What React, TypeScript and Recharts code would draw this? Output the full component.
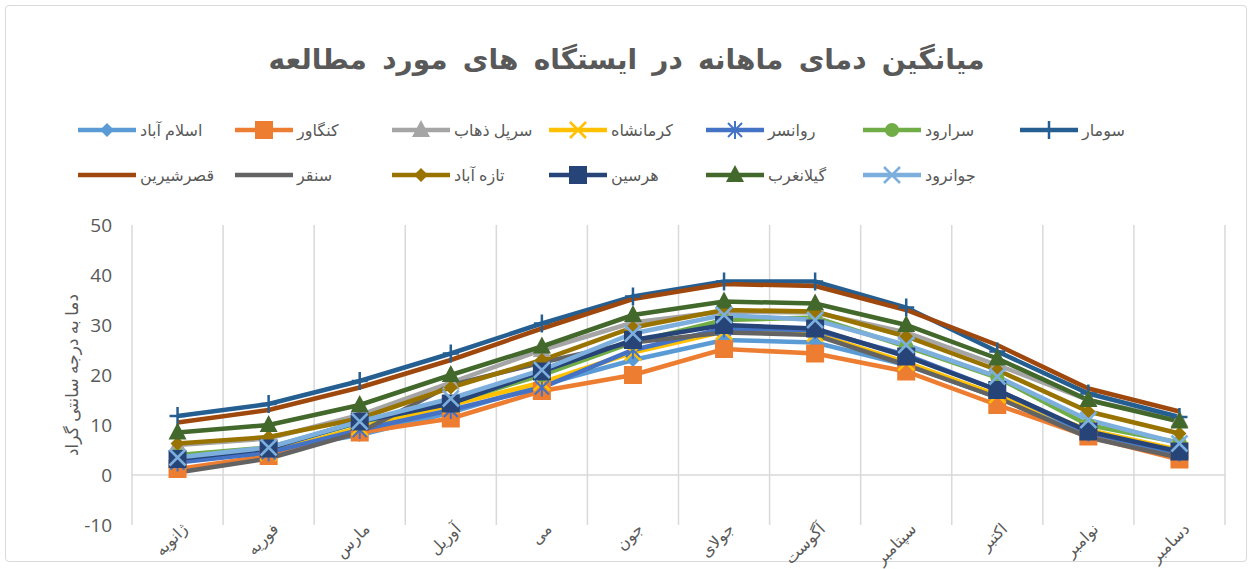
import { LineChart, Line, XAxis, YAxis, CartesianGrid, ReferenceLine, Label } from 'recharts'

// میانگین دمای ماهانه ایستگاه‌ها (درجه سانتی‌گراد)

const months = ['ژانویه', 'فوریه', 'مارس', 'آوریل', 'می', 'جون', 'جولای', 'آگوست', 'سپتامبر', 'اکتبر', 'نوامبر', 'دسامبر']
const yTicks = [-10, 0, 10, 20, 30, 40, 50]

const eslamabad = [3.5, 5, 8, 12.5, 18, 23, 27, 26.5, 22, 15.5, 8, 4]
const kangavar = [1.2, 3.8, 8.5, 11.3, 16.8, 20, 25.2, 24.3, 20.7, 14, 7.7, 3.1]
const sarpolZahab = [6, 7.3, 12, 18.5, 25, 30.5, 32.7, 32.5, 28.5, 22, 15, 11]
const kermanshah = [3, 4.5, 9.5, 14, 18.5, 24.5, 28.7, 28.3, 22.5, 16, 9, 5]
const ravansar = [2.5, 4.5, 9, 13, 17.5, 25, 29.3, 29, 24, 17, 8.5, 4.5]
const sararud = [4, 5.5, 10.5, 14.5, 20, 26.5, 31, 31.5, 25.7, 19.5, 10, 6.5]
const sumar = [11.8, 14.2, 18.8, 24.3, 30.3, 35.7, 38.7, 38.7, 33.5, 24.7, 16.3, 11.6]
const ghasreShirin = [10.5, 13, 17.5, 23, 29.3, 35.2, 38.2, 37.8, 33, 26, 17.3, 12.7]
const sonqor = [0.5, 3.3, 8.5, 18, 22.5, 26.5, 28.5, 28, 22, 15.5, 7.5, 3.5]
const tazeAbad = [6.3, 7.6, 11.3, 17.5, 23, 29.5, 33, 32.7, 27.7, 21, 12.7, 8.3]
const harsin = [3.2, 5.3, 10.7, 14.3, 20.7, 27, 30, 29.3, 23.7, 17, 8.7, 4.7]
const gilangharb = [8.5, 10, 14, 20, 25.7, 32, 34.7, 34.3, 30, 23.3, 15, 10.7]
const javanrud = [3.5, 5.5, 10.7, 15.3, 21, 28.3, 32, 31, 26, 19.7, 11, 6.3]

type Marker = 'diamond' | 'square' | 'triangle' | 'x' | 'star' | 'circle' | 'plus' | 'none'

const series: { name: string; values: number[]; color: string; marker: Marker }[] = [
  { name: 'اسلام آباد', values: eslamabad, color: '#5B9BD5', marker: 'diamond' },
  { name: 'کنگاور', values: kangavar, color: '#ED7D31', marker: 'square' },
  { name: 'سرپل ذهاب', values: sarpolZahab, color: '#A5A5A5', marker: 'triangle' },
  { name: 'کرمانشاه', values: kermanshah, color: '#FFC000', marker: 'x' },
  { name: 'روانسر', values: ravansar, color: '#4472C4', marker: 'star' },
  { name: 'سرارود', values: sararud, color: '#70AD47', marker: 'circle' },
  { name: 'سومار', values: sumar, color: '#255E91', marker: 'plus' },
  { name: 'قصرشیرین', values: ghasreShirin, color: '#9E480E', marker: 'none' },
  { name: 'سنقر', values: sonqor, color: '#636363', marker: 'none' },
  { name: 'تازه آباد', values: tazeAbad, color: '#997300', marker: 'diamond' },
  { name: 'هرسین', values: harsin, color: '#264478', marker: 'square' },
  { name: 'گیلانغرب', values: gilangharb, color: '#43682B', marker: 'triangle' },
  { name: 'جوانرود', values: javanrud, color: '#7CAFDD', marker: 'x' },
]

const data = months.map((month, i) => {
  const row: Record<string, string | number> = { month }
  series.forEach(s => {
    row[s.name] = s.values[i]
  })
  return row
})

const textColor = '#595959'
const gridColor = '#D9D9D9'
const fontStack = "'Open Sans', 'DejaVu Sans', sans-serif"

function markerShape(marker: Marker, color: string, cx: number, cy: number, k?: string) {
  switch (marker) {
    case 'diamond':
      return <polygon key={k} points={`${cx},${cy - 7} ${cx + 7},${cy} ${cx},${cy + 7} ${cx - 7},${cy}`} fill={color} />
    case 'square':
      return <rect key={k} x={cx - 9} y={cy - 9} width={18} height={18} fill={color} />
    case 'triangle':
      return <polygon key={k} points={`${cx},${cy - 10} ${cx + 9},${cy + 7} ${cx - 9},${cy + 7}`} fill={color} />
    case 'circle':
      return <circle key={k} cx={cx} cy={cy} r={7} fill={color} />
    case 'x':
      return (
        <g key={k} stroke={color} strokeWidth={2.5}>
          <line x1={cx - 8} y1={cy - 8} x2={cx + 8} y2={cy + 8} />
          <line x1={cx - 8} y1={cy + 8} x2={cx + 8} y2={cy - 8} />
        </g>
      )
    case 'star':
      return (
        <g key={k} stroke={color} strokeWidth={2}>
          <line x1={cx - 7} y1={cy - 7} x2={cx + 7} y2={cy + 7} />
          <line x1={cx - 7} y1={cy + 7} x2={cx + 7} y2={cy - 7} />
          <line x1={cx} y1={cy - 9} x2={cx} y2={cy + 9} />
        </g>
      )
    case 'plus':
      return (
        <g key={k} stroke={color} strokeWidth={2.5}>
          <line x1={cx} y1={cy - 9} x2={cx} y2={cy + 9} />
          <line x1={cx - 8} y1={cy} x2={cx + 8} y2={cy} />
        </g>
      )
    default:
      return <g key={k} />
  }
}

const MonthTick = ({ x, y, payload }: any) => {
  const ax = x + 8
  const ay = y - 6
  return (
    <text
      x={ax}
      y={ay}
      transform={`rotate(-45 ${ax} ${ay})`}
      textAnchor="end"
      dominantBaseline="middle"
      fill={textColor}
      fontSize={16}
      fontFamily={fontStack}
      wordSpacing={2}
    >
      {payload.value}
    </text>
  )
}

function LegendItem({ name, color, marker }: { name: string; color: string; marker: Marker }) {
  return (
    <div style={{ display: 'flex', alignItems: 'center', width: 157, whiteSpace: 'nowrap' }}>
      <svg width={58} height={22}>
        <line x1={0} y1={11} x2={58} y2={11} stroke={color} strokeWidth={4.5} strokeLinecap="round" />
        {markerShape(marker, color, 29, 11)}
      </svg>
      <span style={{ marginLeft: 4, fontSize: 16, color: textColor, fontFamily: fontStack }}>{name}</span>
    </div>
  )
}

export default function App() {
  const rows = [series.slice(0, 7), series.slice(7)]
  return (
    <div style={{ position: 'absolute', left: 0, top: 0, width: 1253, height: 569, background: '#fff', overflow: 'hidden' }}>
      <div
        style={{
          position: 'absolute',
          left: 5,
          top: 5,
          width: 1240,
          height: 555,
          border: `1px solid ${gridColor}`,
          borderRadius: 4,
        }}
      />
      <div
        style={{
          position: 'absolute',
          top: 39,
          left: 0,
          width: 1253,
          textAlign: 'center',
          fontSize: 28,
          fontWeight: 'bold',
          color: textColor,
          fontFamily: fontStack,
          wordSpacing: 8,
        }}
      >
        میانگین دمای ماهانه در ایستگاه های مورد مطالعه
      </div>
      <div style={{ position: 'absolute', left: 78, top: 119, display: 'flex', flexDirection: 'column', gap: 23 }}>
        {rows.map((row, r) => (
          <div key={r} style={{ display: 'flex' }}>
            {row.map(s => (
              <LegendItem key={s.name} name={s.name} color={s.color} marker={s.marker} />
            ))}
          </div>
        ))}
      </div>
      <div style={{ position: 'absolute', left: 0, top: 0 }}>
        <LineChart width={1253} height={569} data={data} margin={{ top: 225, right: 28, bottom: 0, left: 72 }}>
          <CartesianGrid
            horizontal={false}
            stroke={gridColor}
            strokeWidth={1.5}
            verticalCoordinatesGenerator={({ offset }: any) =>
              Array.from({ length: months.length + 1 }, (_, i) => offset.left + (i * offset.width) / months.length)
            }
          />
          <XAxis
            dataKey="month"
            scale="band"
            interval={0}
            axisLine={false}
            tickLine={false}
            height={44}
            tick={<MonthTick />}
          />
          <YAxis
            domain={[-10, 50]}
            ticks={yTicks}
            width={60}
            axisLine={false}
            tickLine={false}
            tickSize={0}
            tickMargin={20}
            tick={{ fill: textColor, fontSize: 19, fontFamily: fontStack }}
          >
            <Label
              value="دما به درجه سانتی گراد"
              angle={-90}
              position="insideLeft"
              offset={0}
              fill={textColor}
              fontSize={17}
              fontFamily={fontStack}
              style={{ textAnchor: 'middle' }}
            />
          </YAxis>
          <ReferenceLine y={0} stroke={gridColor} strokeWidth={1.5} />
          {series.map(s => (
            <Line
              key={s.name}
              dataKey={s.name}
              stroke={s.color}
              strokeWidth={4.5}
              isAnimationActive={false}
              dot={(p: any) => markerShape(s.marker, s.color, p.cx, p.cy, `${s.name}-${p.index}`)}
              activeDot={false}
            />
          ))}
        </LineChart>
      </div>
    </div>
  )
}
